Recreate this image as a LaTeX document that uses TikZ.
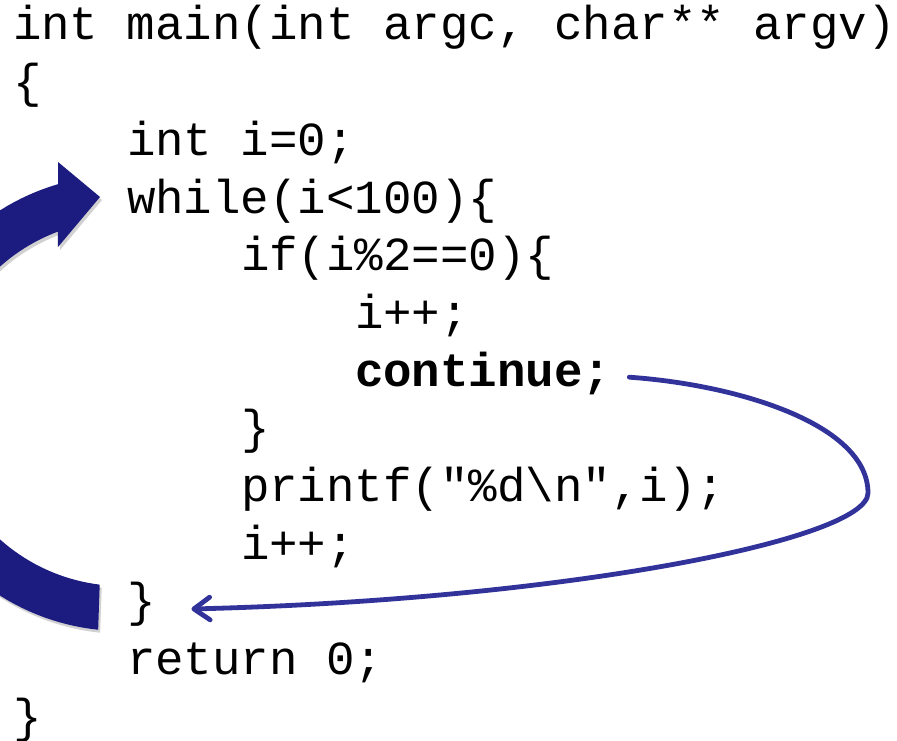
\documentclass[tikz,border=0pt]{standalone}
\usepackage{fontspec}
\setmonofont{Liberation Mono}
\usetikzlibrary{arrows.meta,calc}
\definecolor{loopblue}{RGB}{28,28,128}
\definecolor{jumpblue}{RGB}{50,50,155}
\newfontfamily\codefont{Liberation Mono}
\begin{document}
\begin{tikzpicture}[x=0.75pt,y=-0.75pt,
  code/.style={anchor=base west,inner sep=0pt,outer sep=0pt,
    font=\codefont\fontsize{35.6pt}{43.3pt}\selectfont,text=black},
  bigloop/.style={fill=loopblue},
  bigshadow/.style={fill=black,opacity=0.18},
  jump/.style={draw=jumpblue,line width=3.6pt,line cap=round,
    -{Straight Barb[length=12pt,width=17pt,round]}}]
\useasboundingbox (0,0) rectangle (897,741);
% big loop arrow (shadow then arrow)
\begin{scope}[shift={(2,3)}]
\fill[bigshadow] plot[domain=96:253.7,samples=80] ({122+228*cos(\x)},{403+228*sin(\x)})
  -- (58,162) -- (100,197) -- (58,247)
  -- plot[domain=249.5:97,samples=80] ({122+183*cos(\x)},{403+183*sin(\x)}) -- cycle;
\end{scope}
\fill[bigloop] plot[domain=96:253.7,samples=80] ({122+228*cos(\x)},{403+228*sin(\x)})
  -- (58,162) -- (100,197) -- (58,247)
  -- plot[domain=249.5:97,samples=80] ({122+183*cos(\x)},{403+183*sin(\x)}) -- cycle;
% code lines
\node[code] (l1)  at ({13+28.5*0},40)    {int main(int argc, char** argv)};
\node[code] (l2)  at ({13+28.5*0},97.7)  {\{};
\node[code] (l3)  at ({13+28.5*4},155.4) {int i=0;};
\node[code] (l4)  at ({13+28.5*4},213.1) {while(i<100)\{};
\node[code] (l5)  at ({13+28.5*8},270.8) {if(i\%2==0)\{};
\node[code] (l6)  at ({13+28.5*12},328.5) {i++;};
\node[code] (l7)  at ({13+28.5*12},386.2) {\bfseries continue;};
\node[code] (l8)  at ({13+28.5*8},443.9) {\}};
\node[code] (l9)  at ({13+28.5*8},501.6) {printf("\%d\textbackslash n",i);};
\node[code] (l10) at ({13+28.5*8},559.3) {i++;};
\node[code] (l11) at ({13+28.5*4},617)   {\}};
\node[code] (l12) at ({13+28.5*4},674.7) {return 0;};
\node[code] (l13) at ({13+28.5*0},732.4) {\}};
% continue jump arrow
\coordinate (js) at ($(l7.base east)+(18,-9)$);
\coordinate (je) at ($(l11.base east)+(36,-8)$);
\draw[jump] (js) .. controls (740,385) and (868,425) .. (868,493)
  .. controls (868,540) and (560,600) .. (je);
\end{tikzpicture}
\end{document}
